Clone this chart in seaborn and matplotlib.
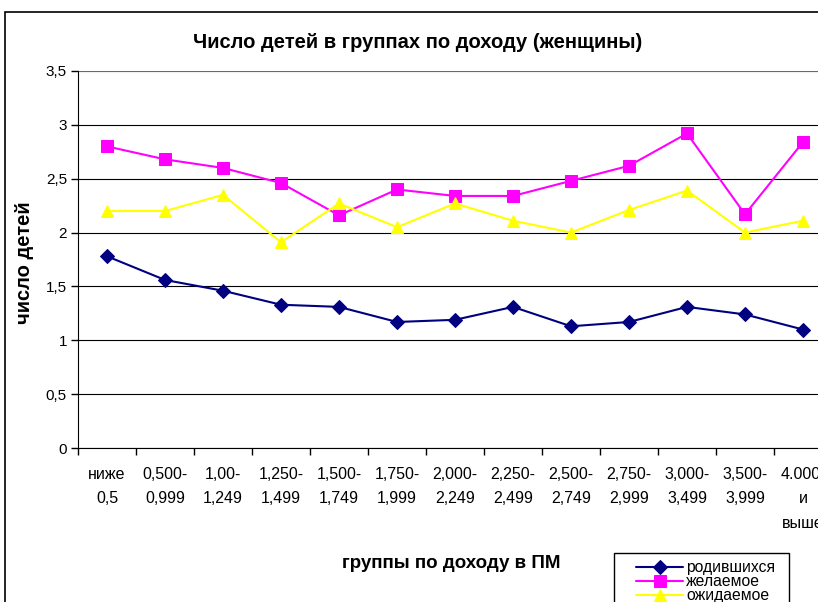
import matplotlib
matplotlib.use("Agg")
import matplotlib.pyplot as plt
import seaborn as sns
import pandas as pd
from matplotlib.patches import Rectangle
from matplotlib.ticker import MultipleLocator, FixedLocator

# Data
groups = ["ниже\n0,5", "0,500-\n0,999", "1,00-\n1,249", "1,250-\n1,499", "1,500-\n1,749",
          "1,750-\n1,999", "2,000-\n2,249", "2,250-\n2,499", "2,500-\n2,749", "2,750-\n2,999",
          "3,000-\n3,499", "3,500-\n3,999", "4.000-\nи\nвыше"]
born = [1.78, 1.56, 1.46, 1.33, 1.31, 1.17, 1.19, 1.31, 1.13, 1.17, 1.31, 1.24, 1.10]
desired = [2.80, 2.68, 2.60, 2.46, 2.16, 2.40, 2.34, 2.34, 2.48, 2.62, 2.92, 2.17, 2.84]
expected = [2.20, 2.20, 2.35, 1.91, 2.27, 2.05, 2.27, 2.11, 2.00, 2.21, 2.39, 2.00, 2.11]

df = pd.DataFrame({"pos": range(len(groups)), "born": born,
                   "desired": desired, "expected": expected})

sns.set_style("white")
plt.rcParams["font.family"] = ["Liberation Sans", "DejaVu Sans"]
plt.rcParams["text.color"] = "black"
plt.rcParams["axes.labelcolor"] = "black"
plt.rcParams["xtick.color"] = "black"
plt.rcParams["ytick.color"] = "black"

fig = plt.figure(figsize=(8.18, 6.02), dpi=100)
ax = fig.add_axes([78 / 818, 154 / 602, 754 / 818, 377 / 602])

# chart area border (cut off at right/bottom)
fig.patches.append(Rectangle((5 / 818, -0.1), 1.2, 1 - 12 / 602 + 0.1, transform=fig.transFigure,
                             fill=False, edgecolor="black", linewidth=1.2))

sns.lineplot(data=df, x="pos", y="born", ax=ax, color="#000080", marker="D",
             markersize=7, markeredgecolor="#000080", linewidth=1.5, label="родившихся")
sns.lineplot(data=df, x="pos", y="desired", ax=ax, color="#FF00FF", marker="s",
             markersize=8, markeredgecolor="#FF00FF", linewidth=1.5, label="желаемое")
sns.lineplot(data=df, x="pos", y="expected", ax=ax, color="#FFFF00", marker="^",
             markersize=9, markeredgecolor="#FFFF00", linewidth=1.5, label="ожидаемое")

ax.set_xlim(-0.5, len(groups) - 0.5)
ax.set_ylim(0, 3.5)
ax.yaxis.set_major_locator(MultipleLocator(0.5))
ax.set_yticklabels([f"{v:g}".replace(".", ",") for v in ax.get_yticks()], fontsize=11)
ax.yaxis.grid(True, color="black", linewidth=0.8)
ax.tick_params(axis="y", left=True, length=5, width=1, pad=3)

ax.set_xticks(range(len(groups)))
ax.set_xticklabels(groups, fontsize=11.5, linespacing=1.8, va="top")
ax.tick_params(axis="x", which="major", length=0, pad=13.5)
ax.xaxis.set_minor_locator(FixedLocator([i - 0.5 for i in range(len(groups) + 1)]))
ax.tick_params(axis="x", which="minor", bottom=True, length=5, width=1)

for s in ["top", "right"]:
    ax.spines[s].set_visible(False)
ax.spines["left"].set_color("black")
ax.spines["bottom"].set_color("black")
ax.axhline(3.5, color="#808080", linewidth=1.2)

ax.set_xlabel("")
ax.set_ylabel("")
fig.text(25 / 818, 1 - 263 / 602, "число детей", fontsize=14.5, fontweight="bold",
         rotation=90, ha="center", va="center")
fig.text(451 / 818, 1 - 563 / 602, "группы по доходу в ПМ", fontsize=13.5,
         fontweight="bold", ha="center", va="center")
fig.text(418 / 818, 1 - 43 / 602, "Число детей в группах по доходу (женщины)",
         fontsize=14.5, fontweight="bold", ha="center", va="center")

# legend box (cut off at bottom)
fig.patches.append(Rectangle((614 / 818, -0.05), 175 / 818, 0.05 + 1 - 553 / 602,
                             transform=fig.transFigure, fill=False,
                             edgecolor="black", linewidth=1))
ax.legend_.remove()
h, l = ax.get_legend_handles_labels()
leg = fig.legend(h, l, loc="upper left", bbox_to_anchor=(636 / 818, 1 - 560 / 602),
                 fontsize=11.3, frameon=False, handlelength=3.0, borderpad=0,
                 labelspacing=-0.05, handletextpad=0.2, borderaxespad=0)

fig.savefig("out.png", dpi=100)
